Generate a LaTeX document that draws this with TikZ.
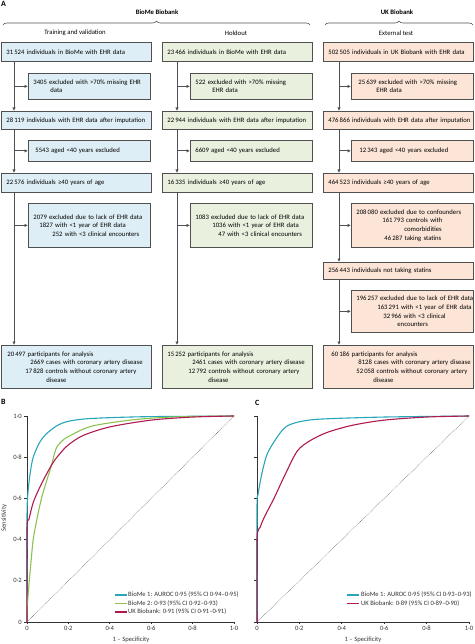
\documentclass[tikz,border=0pt]{standalone}
\usepackage{fontspec}
\setmainfont{Carlito}
\usepackage{tikz}
\usetikzlibrary{arrows.meta,positioning,calc,decorations.pathreplacing}

\definecolor{bmblue}{RGB}{222,238,246}
\definecolor{bmgreen}{RGB}{233,241,222}
\definecolor{ukorange}{RGB}{252,229,215}
\definecolor{edgegray}{RGB}{80,80,80}
\definecolor{rocteal}{RGB}{38,166,184}
\definecolor{rocgreen}{RGB}{141,194,80}
\definecolor{rocred}{RGB}{176,26,80}

% one line of box text: indent (pt), text
\newcommand{\li}[2]{\hspace*{#1pt}\mbox{#2}}

\begin{document}
\begin{tikzpicture}[
  x=1pt, y=-1pt,
  font=\fontsize{6.7}{8.6}\selectfont,
  box/.style={draw=edgegray, line width=0.8pt, anchor=north west, align=left,
              inner xsep=5pt, inner ysep=1pt},
  mainbox/.style={box, text width=140pt},
  exclbox/.style={box, text width=112pt},
  bluefill/.style={fill=bmblue},
  greenfill/.style={fill=bmgreen},
  orangefill/.style={fill=ukorange},
  flow/.style={-{Latex[length=3.5pt,width=3.5pt]}, draw=edgegray, line width=0.8pt},
  brc/.style={decorate, decoration={brace, amplitude=4pt}, draw=edgegray, line width=0.6pt},
  axisline/.style={draw=black!80, line width=0.8pt},
  roc/.style={line width=1.1pt, line join=round},
  ticklab/.style={font=\fontsize{6.6}{7.5}\selectfont, text=black!80, inner sep=1pt}
]
\useasboundingbox (0,0) rectangle (474,644);

%% panel A
\node[font=\bfseries\fontsize{8}{9}\selectfont, anchor=north west, inner sep=0pt] (pA) at (1,1) {A};
\node[font=\bfseries\fontsize{6.7}{8}\selectfont] (bmlab) at (157,12) {BioMe Biobank};
\node[font=\bfseries\fontsize{6.7}{8}\selectfont] (uklab) at (397,12) {UK Biobank};
\draw[brc] (3,25) -- (310,25);
\draw[brc] (325,25) -- (473,25);
\node (tvlab) at (75,33) {Training and validation};
\node (holab) at (236,33) {Holdout};
\node (uklab2) at (396,33) {External test};

% training and validation
\node[mainbox, bluefill, minimum height=19pt] (tv1) at (1,42) {\li{0}{31\,524 individuals in BioMe with EHR data}};
\node[exclbox, bluefill, minimum height=26pt] (tve1) at (28,73) {\li{0}{3405 excluded with >70\% missing EHR}\\\li{17}{data}};
\node[mainbox, bluefill, minimum height=18pt] (tv2) at (1,111) {\li{0}{28\,119 individuals with EHR data after imputation}};
\node[exclbox, bluefill, minimum height=21pt] (tve2) at (28,140) {\li{2}{5543 aged <40 years excluded}};
\node[mainbox, bluefill, minimum height=19pt] (tv3) at (1,173) {\li{0}{22\,576 individuals ≥40 years of age}};
\node[exclbox, bluefill, minimum height=44pt] (tve3) at (28,203) {\li{0}{2079 excluded due to lack of EHR data}\\\li{6}{1827 with <1 year of EHR data}\\\li{19}{252 with <3 clinical encounters}\\[4pt]};
\node[mainbox, bluefill, minimum height=43pt] (tvf) at (1,345) {\li{1}{20\,497 participants for analysis}\\\li{24}{2669 cases with coronary artery disease}\\\li{19}{17\,828 controls without coronary artery}\\\li{40}{disease}};

% holdout
\node[mainbox, greenfill, minimum height=19pt] (ho1) at (162,42) {\li{0}{23\,466 individuals in BioMe with EHR data}};
\node[exclbox, greenfill, minimum height=26pt] (hoe1) at (190,73) {\li{0}{522 excluded with >70\% missing}\\\li{17}{EHR data}};
\node[mainbox, greenfill, minimum height=18pt] (ho2) at (162,111) {\li{0}{22\,944 individuals with EHR data after imputation}};
\node[exclbox, greenfill, minimum height=21pt] (hoe2) at (190,140) {\li{0}{6609 aged <40 years excluded}};
\node[mainbox, greenfill, minimum height=19pt] (ho3) at (162,173) {\li{0}{16\,335 individuals ≥40 years of age}};
\node[exclbox, greenfill, minimum height=44pt] (hoe3) at (190,203) {\li{0}{1083 excluded due to lack of EHR data}\\\li{17}{1036 with <1 year of EHR data}\\\li{23}{47 with <3 clinical encounters}\\[4pt]};
\node[mainbox, greenfill, minimum height=43pt] (hof) at (162,345) {\li{0}{15\,252 participants for analysis}\\\li{25}{2461 cases with coronary artery disease}\\\li{21}{12\,792 controls without coronary artery}\\\li{41}{disease}};

% external test
\node[mainbox, orangefill, minimum height=19pt] (uk1) at (323,42) {\li{0}{502\,505 individuals in UK Biobank with EHR data}};
\node[exclbox, orangefill, minimum height=26pt] (uke1) at (351,73) {\li{2}{25\,639 excluded with >70\% missing}\\\li{20}{EHR data}};
\node[mainbox, orangefill, minimum height=18pt] (uk2) at (323,111) {\li{0}{476\,866 individuals with EHR data after imputation}};
\node[exclbox, orangefill, minimum height=21pt] (uke2) at (351,140) {\li{3}{12\,343 aged <40 years excluded}};
\node[mainbox, orangefill, minimum height=19pt] (uk3) at (323,173) {\li{0}{464\,523 individuals ≥40 years of age}};
\node[exclbox, orangefill, minimum height=44pt] (uke3) at (351,203) {\li{0}{208\,080 excluded due to confounders}\\\li{26}{161\,793 controls with}\\\li{48}{comorbidities}\\\li{28}{46\,287 taking statins}};
\node[mainbox, orangefill, minimum height=17pt] (uk4) at (323,262) {\li{0}{256\,443 individuals not taking statins}};
\node[exclbox, orangefill, minimum height=42pt] (uke4) at (351,290) {\li{0}{196\,257 excluded due to lack of EHR data}\\\li{21}{163\,291 with <1 year of EHR data}\\\li{27}{32\,966 with <3 clinical}\\\li{41}{encounters}};
\node[mainbox, orangefill, minimum height=43pt] (ukf) at (323,345) {\li{3}{60\,186 participants for analysis}\\\li{30}{8128 cases with coronary artery disease}\\\li{28}{52\,058 controls without coronary artery}\\\li{45}{disease}};

% spines
\coordinate (tvx) at (14,0);
\coordinate (hox) at (177,0);
\coordinate (ukx) at (339,0);

\draw[flow] (tv1.south -| tvx) -- (tv2.north -| tvx);
\draw[flow] (tve1.west -| tvx) -- (tve1.west);
\draw[flow] (tv2.south -| tvx) -- (tv3.north -| tvx);
\draw[flow] (tve2.west -| tvx) -- (tve2.west);
\draw[flow] (tv3.south -| tvx) -- (tvf.north -| tvx);
\draw[flow] (tve3.west -| tvx) -- (tve3.west);

\draw[flow] (ho1.south -| hox) -- (ho2.north -| hox);
\draw[flow] (hoe1.west -| hox) -- (hoe1.west);
\draw[flow] (ho2.south -| hox) -- (ho3.north -| hox);
\draw[flow] (hoe2.west -| hox) -- (hoe2.west);
\draw[flow] (ho3.south -| hox) -- (hof.north -| hox);
\draw[flow] (hoe3.west -| hox) -- (hoe3.west);

\draw[flow] (uk1.south -| ukx) -- (uk2.north -| ukx);
\draw[flow] (uke1.west -| ukx) -- (uke1.west);
\draw[flow] (uk2.south -| ukx) -- (uk3.north -| ukx);
\draw[flow] (uke2.west -| ukx) -- (uke2.west);
\draw[flow] (uk3.south -| ukx) -- (uk4.north -| ukx);
\draw[flow] (uke3.west -| ukx) -- (uke3.west);
\draw[flow] (uk4.south -| ukx) -- (ukf.north -| ukx);
\draw[flow] (uke4.west -| ukx) -- (uke4.west);

%% panel B
\node[font=\bfseries\fontsize{8}{9}\selectfont, anchor=north west, inner sep=0pt] (pB) at (1,399) {B};
\begin{scope}[shift={(27,622)}, x=207pt, y=206pt]
  \draw[densely dotted, draw=black!70, line width=0.5pt] (0,0) -- (1,1);
  \draw[axisline] (0,1) -- (0,0) -- (1,0);
  \foreach \i/\t in {0/0, 1/0·2, 2/0·4, 3/0·6, 4/0·8, 5/1·0} {
    \draw[axisline] (0,\i/5) -- (-0.013,\i/5);
    \draw[axisline] (\i/5,0) -- (\i/5,-0.012);
    \node[ticklab, anchor=east] (by\i) at (-0.02,\i/5) {\t};
    \node[ticklab, anchor=north] (bx\i) at (\i/5,-0.015) {\t};
  }
  \draw[roc, rocteal] plot[smooth, tension=0.5] coordinates {(0,0) (0,0.5) (0.004,0.62) (0.015,0.72) (0.03,0.80) (0.06,0.87) (0.09,0.91) (0.14,0.95) (0.19,0.972) (0.27,0.985) (0.4,0.992) (0.6,0.997) (1,1)};
  \draw[roc, rocgreen] plot[smooth, tension=0.5] coordinates {(0,0) (0.003,0.1) (0.011,0.2) (0.02,0.3) (0.03,0.4) (0.048,0.5) (0.07,0.6) (0.09,0.67) (0.115,0.75) (0.14,0.84) (0.165,0.875) (0.2,0.9) (0.31,0.95) (0.5,0.98) (0.7,0.995) (1,1)};
  \draw[roc, rocred] plot[smooth, tension=0.5] coordinates {(0,0) (0,0.45) (0.01,0.5) (0.03,0.58) (0.06,0.65) (0.09,0.71) (0.13,0.78) (0.17,0.83) (0.2,0.86) (0.27,0.905) (0.4,0.947) (0.6,0.98) (0.8,0.995) (1,1)};
\end{scope}
\node[ticklab, rotate=90] (bylab) at (4,518) {Sensitivity};
\node[ticklab] (bxlab) at (131,640) {1 – Specificity};
\draw[roc, rocteal] (115,595) -- (127,595);
\draw[roc, rocgreen] (115,603.5) -- (127,603.5);
\draw[roc, rocred] (115,612) -- (127,612);
\node[ticklab, anchor=west] (bleg1) at (127,595) {BioMe 1: AUROC 0·95 (95\% CI 0·94–0·95)};
\node[ticklab, anchor=west] (bleg2) at (127,603.5) {BioMe 2: 0·93 (95\% CI 0·92–0·93)};
\node[ticklab, anchor=west] (bleg3) at (127,612) {UK Biobank: 0·91 (95\% CI 0·91–0·91)};

%% panel C
\node[font=\bfseries\fontsize{8}{9}\selectfont, anchor=north west, inner sep=0pt] (pC) at (255,400) {C};
\begin{scope}[shift={(257,622)}, x=212pt, y=206pt]
  \draw[densely dotted, draw=black!70, line width=0.5pt] (0,0) -- (1,1);
  \draw[axisline] (0,1) -- (0,0) -- (1,0);
  \foreach \i/\t in {0/0, 1/0·2, 2/0·4, 3/0·6, 4/0·8, 5/1·0} {
    \draw[axisline] (0,\i/5) -- (-0.013,\i/5);
    \draw[axisline] (\i/5,0) -- (\i/5,-0.012);
    \node[ticklab, anchor=north] (cx\i) at (\i/5,-0.015) {\t};
  }
  \draw[roc, rocteal] plot[smooth, tension=0.5] coordinates {(0,0) (0,0.55) (0.005,0.62) (0.025,0.73) (0.05,0.82) (0.1,0.905) (0.14,0.95) (0.2,0.972) (0.3,0.985) (0.6,0.995) (1,1)};
  \draw[roc, rocred] plot[smooth, tension=0.5] coordinates {(0,0) (0,0.40) (0.015,0.46) (0.035,0.51) (0.08,0.60) (0.13,0.71) (0.19,0.83) (0.25,0.88) (0.33,0.92) (0.45,0.955) (0.6,0.98) (0.8,0.995) (1,1)};
\end{scope}
\node[ticklab] (cxlab) at (363,640) {1 – Specificity};
\draw[roc, rocteal] (347,595) -- (359,595);
\draw[roc, rocred] (347,603.5) -- (359,603.5);
\node[ticklab, anchor=west] (cleg1) at (360,595) {BioMe 1: AUROC 0·95 (95\% CI 0·93–0·93)};
\node[ticklab, anchor=west] (cleg2) at (360,603.5) {UK Biobank: 0·89 (95\% CI 0·89–0·90)};
\end{tikzpicture}
\end{document}
